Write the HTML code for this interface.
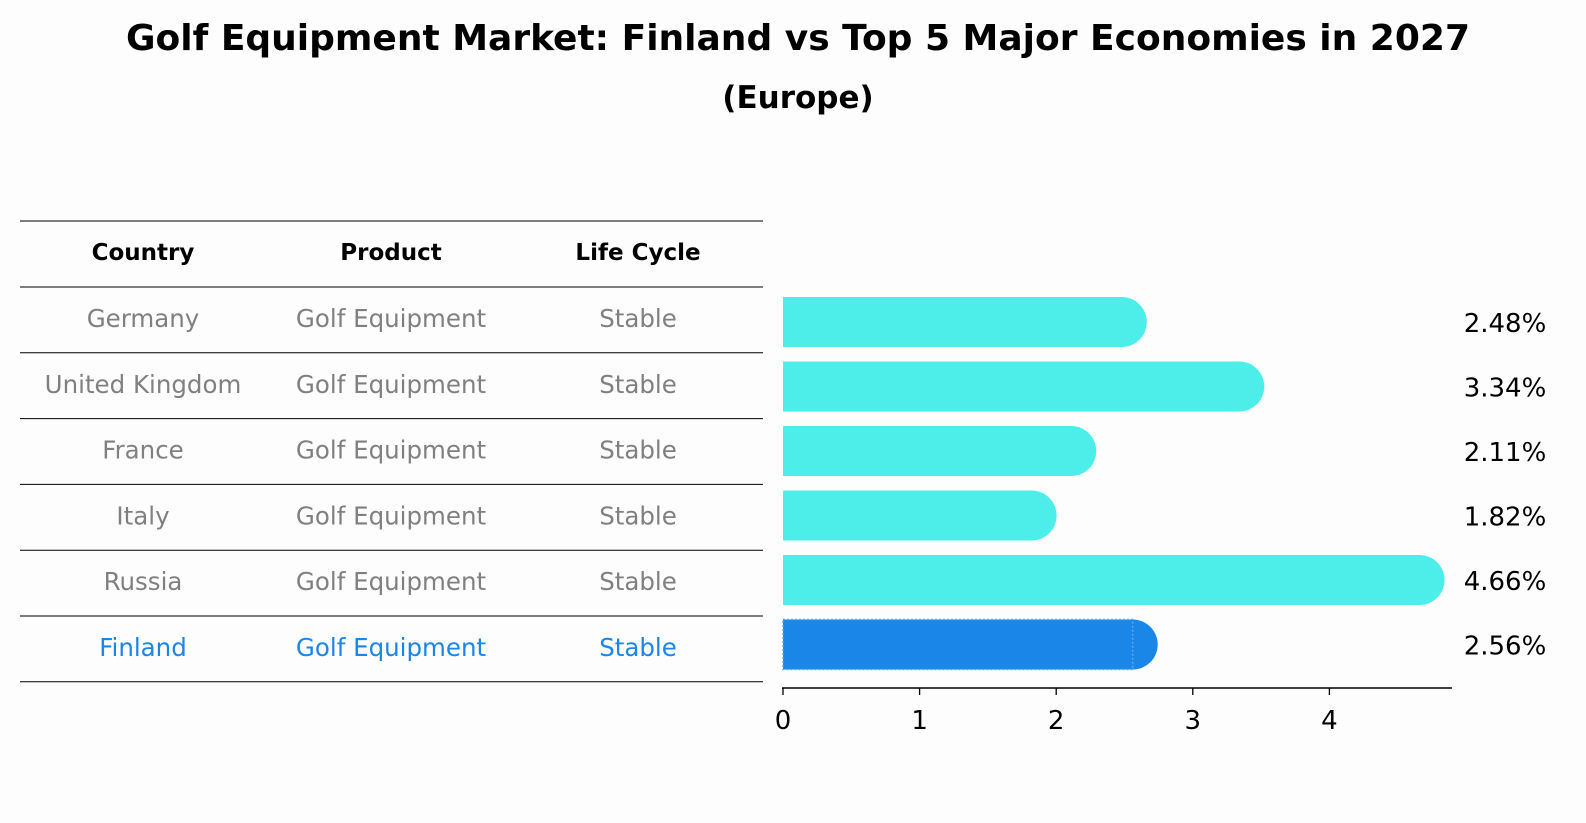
<!DOCTYPE html>
<html><head><meta charset="utf-8"><style>
body{margin:0;background:#fdfdfd;}
svg{display:block;font-family:"DejaVu Sans","Liberation Sans",sans-serif;}
</style></head><body>
<svg id="c" width="1586" height="823" viewBox="0 0 1586 823">
<rect width="1586" height="823" fill="#fdfdfd"/>
<text x="798" y="50" text-anchor="middle" font-size="36" font-weight="bold">Golf Equipment Market: Finland vs Top 5 Major Economies in 2027</text>
<text x="798" y="108" text-anchor="middle" font-size="31" font-weight="bold">(Europe)</text>
<g id="table"></g>
<g id="bars"></g>
</svg>
<script>
const countries=["Germany","United Kingdom","France","Italy","Russia","Finland"];
const products=["Golf Equipment","Golf Equipment","Golf Equipment","Golf Equipment","Golf Equipment","Golf Equipment"];
const lifeCycles=["Stable","Stable","Stable","Stable","Stable","Stable"];
const values=[2.48,3.34,2.11,1.82,4.66,2.56];
const ticks=[0,1,2,3,4];
const NS="http://www.w3.org/2000/svg";
function mk(tag,attrs,parent,text){const e=document.createElementNS(NS,tag);for(const k in attrs)e.setAttribute(k,attrs[k]);if(text!==undefined)e.textContent=text;parent.appendChild(e);return e;}
const tbl=document.getElementById('table'),bars=document.getElementById('bars');
const rowY=i=>322+i*64.5;
const x=v=>783+v*136.6;
const lineYs=[221,287];for(let i=0;i<countries.length;i++)lineYs.push(287+(i+1)*65.8);
lineYs.forEach((y,i)=>{const l=mk('line',{x1:20,x2:763,y1:y,y2:y,stroke:'#000','stroke-width':1},tbl);

});
const colX=[143,391,638];
["Country","Product","Life Cycle"].forEach((h,j)=>{const t=mk('text',{x:colX[j],y:260,'text-anchor':'middle','font-size':23,'font-weight':'bold'},tbl,h);

});
countries.forEach((c,i)=>{const y=287+i*65.8+40;const col=i===countries.length-1?'#1a86e8':'#808080';
[c,products[i],lifeCycles[i]].forEach((s,j)=>{const t=mk('text',{x:colX[j],y:y,'text-anchor':'middle','font-size':24.5,fill:col},tbl,s);

});});
values.forEach((v,i)=>{const last=i===values.length-1;const col=last?'#1a86e8':'#4deeea';const cy=rowY(i);
const g=mk('g',{},bars);


mk('rect',{x:x(0),y:cy-25,width:x(v)-x(0),height:50,fill:col},g);
mk('circle',{cx:x(v),cy:cy,r:25,fill:col},g);
if(last){mk('rect',{x:x(0),y:cy-25,width:x(v)-x(0),height:50,fill:'none',stroke:'#5aa8f0','stroke-width':1.5,'stroke-dasharray':'2,2'},g);}
const t=mk('text',{x:1505,y:cy+10,'text-anchor':'middle','font-size':26},bars,v.toFixed(2)+'%');

});
const ax=mk('line',{x1:782,x2:1452,y1:688,y2:688,stroke:'#000','stroke-width':1.5},bars);


ticks.forEach(t=>{mk('line',{x1:x(t),x2:x(t),y1:688,y2:695,stroke:'#000','stroke-width':1.3},bars);
const l=mk('text',{x:x(t),y:729,'text-anchor':'middle','font-size':26},bars,String(t));

});
</script>
</body></html>
